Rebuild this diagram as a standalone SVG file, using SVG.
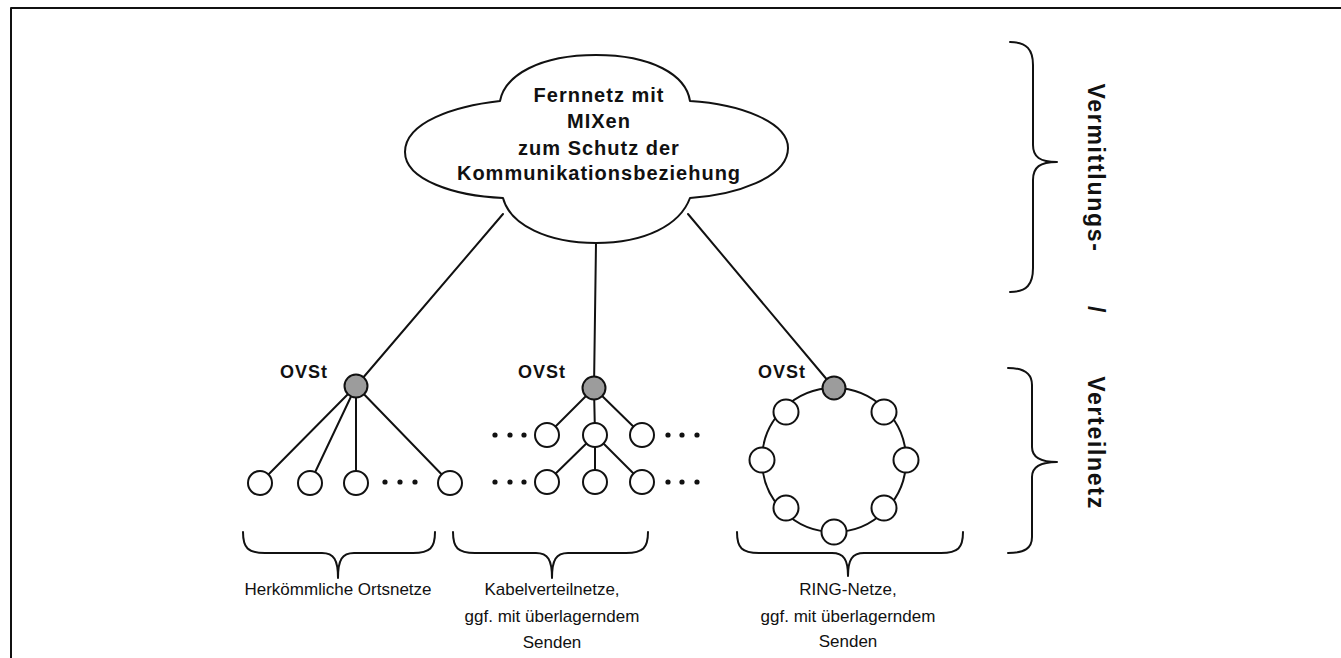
<svg xmlns="http://www.w3.org/2000/svg" width="1341" height="658" viewBox="0 0 1341 658">
  <style>
    .ln { fill: none; stroke: #111; stroke-width: 2; stroke-linecap: round; stroke-linejoin: round; }
    .nd { fill: #fff; stroke: #111; stroke-width: 2; }
    .sw { fill: #9c9c9c; stroke: #111; stroke-width: 2; }
    .dot { fill: #111; }
    .bold { font-family: "Liberation Sans", Arial, Helvetica, sans-serif; font-weight: bold; fill: #111; }
    .cl { font-size: 20px; letter-spacing: 1px; text-anchor: middle; }
    .ov { font-size: 18px; letter-spacing: 1px; text-anchor: end; }
    .side { font-size: 23px; letter-spacing: 1.7px; text-anchor: middle; }
    .cap { font-family: "Liberation Sans", Arial, Helvetica, sans-serif; font-size: 17px; fill: #111; text-anchor: middle; }
  </style>

  <!-- page frame -->
  <path class="ln" d="M11,658 V8 H1341"/>

  <!-- connectors -->
  <g id="connectors" class="ln">
    <!-- backbone to local exchanges -->
    <line x1="503" y1="214" x2="356" y2="386"/>
    <line x1="596" y1="243" x2="594" y2="388"/>
    <line x1="688" y1="214" x2="834" y2="388"/>
    <!-- star network -->
    <line x1="356" y1="386" x2="260" y2="483"/>
    <line x1="356" y1="386" x2="310" y2="483"/>
    <line x1="356" y1="386" x2="356" y2="483"/>
    <line x1="356" y1="386" x2="450" y2="483"/>
    <!-- tree network -->
    <line x1="594" y1="388" x2="547" y2="435"/>
    <line x1="594" y1="388" x2="595" y2="435"/>
    <line x1="594" y1="388" x2="642" y2="435"/>
    <line x1="595" y1="435" x2="547" y2="482"/>
    <line x1="595" y1="435" x2="595" y2="482"/>
    <line x1="595" y1="435" x2="642" y2="482"/>
    <!-- ring network -->
    <circle cx="834" cy="460" r="72"/>
  </g>

  <!-- long-distance network cloud -->
  <g id="cloud">
    <path class="ln" d="M500,101 C505,75 540,55 596,55 C652,55 686,75 690,101 C740,104 788,122 788,148 C788,178 735,195 690,198 C680,225 645,243 596,243 C548,243 510,225 503,198 C455,196 405,180 405,152 C405,122 455,106 500,101 Z" fill="#fff"/>
    <text class="bold cl" x="599" y="102">Fernnetz mit</text>
    <text class="bold cl" x="599" y="128">MIXen</text>
    <text class="bold cl" x="599" y="155">zum Schutz der</text>
    <text class="bold cl" x="599" y="180">Kommunikationsbeziehung</text>
  </g>

  <!-- star network -->
  <g id="star">
    <circle class="sw" cx="356" cy="386" r="11.5"/>
    <text class="bold ov" x="328" y="378">OVSt</text>
    <circle class="nd" cx="260" cy="483" r="12"/>
    <circle class="nd" cx="310" cy="483" r="12"/>
    <circle class="nd" cx="356" cy="483" r="12"/>
    <circle class="nd" cx="450" cy="483" r="12"/>
    <circle class="dot" cx="385" cy="482" r="2.6"/>
    <circle class="dot" cx="400" cy="482" r="2.6"/>
    <circle class="dot" cx="415" cy="482" r="2.6"/>
  </g>

  <!-- tree (cable distribution) network -->
  <g id="tree">
    <circle class="sw" cx="594" cy="388" r="11.5"/>
    <text class="bold ov" x="566" y="378">OVSt</text>
    <circle class="nd" cx="547" cy="435" r="12"/>
    <circle class="nd" cx="595" cy="435" r="12"/>
    <circle class="nd" cx="642" cy="435" r="12"/>
    <circle class="nd" cx="547" cy="482" r="12"/>
    <circle class="nd" cx="595" cy="482" r="12"/>
    <circle class="nd" cx="642" cy="482" r="12"/>
    <circle class="dot" cx="495" cy="435" r="2.6"/>
    <circle class="dot" cx="510" cy="435" r="2.6"/>
    <circle class="dot" cx="524" cy="435" r="2.6"/>
    <circle class="dot" cx="668" cy="435" r="2.6"/>
    <circle class="dot" cx="682" cy="435" r="2.6"/>
    <circle class="dot" cx="697" cy="435" r="2.6"/>
    <circle class="dot" cx="495" cy="482" r="2.6"/>
    <circle class="dot" cx="510" cy="482" r="2.6"/>
    <circle class="dot" cx="524" cy="482" r="2.6"/>
    <circle class="dot" cx="668" cy="482" r="2.6"/>
    <circle class="dot" cx="682" cy="482" r="2.6"/>
    <circle class="dot" cx="697" cy="482" r="2.6"/>
  </g>

  <!-- ring network -->
  <g id="ring">
    <circle class="sw" cx="834" cy="388" r="11.5"/>
    <text class="bold ov" x="806" y="378">OVSt</text>
    <circle class="nd" cx="786" cy="412" r="12.5"/>
    <circle class="nd" cx="762" cy="460" r="12.5"/>
    <circle class="nd" cx="786" cy="508" r="12.5"/>
    <circle class="nd" cx="834" cy="532" r="12.5"/>
    <circle class="nd" cx="884" cy="508" r="12.5"/>
    <circle class="nd" cx="906" cy="460" r="12.5"/>
    <circle class="nd" cx="884" cy="412" r="12.5"/>
  </g>

  <!-- captions under the networks -->
  <g id="caption-star">
    <path class="ln" d="M243,532 C243,548 248,553 265,553 L322,553 C334,553 338,560 338,578 C338,560 342,553 354,553 L413,553 C430,553 435,548 435,532"/>
    <text class="cap" x="338" y="595">Herkömmliche Ortsnetze</text>
  </g>
  <g id="caption-tree">
    <path class="ln" d="M453,532 C453,548 458,553 475,553 L536,553 C548,553 552,560 552,578 C552,560 556,553 568,553 L626,553 C643,553 648,548 648,532"/>
    <text class="cap" x="552" y="595">Kabelverteilnetze,</text>
    <text class="cap" x="552" y="622">ggf. mit überlagerndem</text>
    <text class="cap" x="552" y="648">Senden</text>
  </g>
  <g id="caption-ring">
    <path class="ln" d="M737,532 C737,548 742,553 759,553 L832,553 C844,553 848,560 848,576 C848,560 852,553 864,553 L941,553 C958,553 963,548 963,532"/>
    <text class="cap" x="848" y="595">RING-Netze,</text>
    <text class="cap" x="848" y="622">ggf. mit überlagerndem</text>
    <text class="cap" x="848" y="647">Senden</text>
  </g>

  <!-- side braces -->
  <g id="switching">
    <path class="ln" d="M1010,42 C1027,42 1033,50 1033,65 L1033,145 C1033,157 1040,162 1057,162 C1040,162 1033,167 1033,180 L1033,268 C1033,284 1027,292 1010,292"/>
    <text class="bold side" transform="translate(1088,168) rotate(90)">Vermittlungs-</text>
    <text class="bold side" transform="translate(1088,310) rotate(90)">/</text>
  </g>
  <g id="distribution">
    <path class="ln" d="M1008,368 C1025,368 1032,375 1032,385 L1032,447 C1032,457 1040,462 1057,462 C1040,462 1032,467 1032,477 L1032,537 C1032,548 1025,553 1008,553"/>
    <text class="bold side" transform="translate(1088,443) rotate(90)">Verteilnetz</text>
  </g>
</svg>
